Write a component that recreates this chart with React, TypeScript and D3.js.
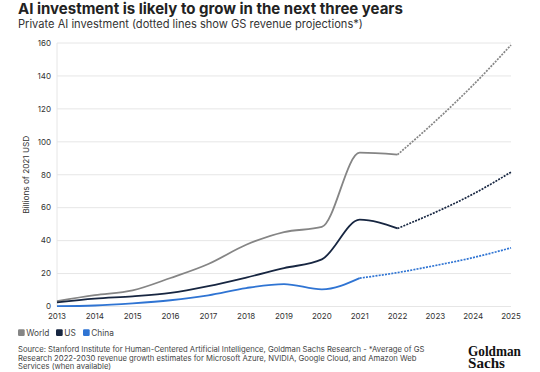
import React from 'react';
import * as d3 from 'd3';

const years = [2013, 2014, 2015, 2016, 2017, 2018, 2019, 2020, 2021, 2022, 2023, 2024, 2025];
const yTicks = [0, 20, 40, 60, 80, 100, 120, 140, 160];

// actuals (solid) and GS projections (dotted)
const worldActual = [3.3, 6.9, 9.8, 17.3, 25.8, 37.5, 45.2, 48.3, 93.4, 92.2];
const worldProjection = [92.2, 112.5, 134.5, 158.8];
const usActual = [2.5, 4.8, 6.2, 8.3, 12.4, 17.6, 23.3, 28.6, 52.7, 47.4];
const usProjection = [47.4, 57.2, 68.3, 81.6];
const chinaActual = [0.2, 0.6, 1.9, 3.8, 6.8, 11.2, 13.6, 10.4, 17.2];
const chinaProjection = [17.2, 20.6, 24.9, 29.7, 35.6];

const series = [
  { name: 'World', color: '#858585', actual: worldActual, proj: worldProjection, projStart: 2022 },
  { name: 'US', color: '#172641', actual: usActual, proj: usProjection, projStart: 2022 },
  { name: 'China', color: '#2f74d3', actual: chinaActual, proj: chinaProjection, projStart: 2021 },
];

const sourceLines = [
  'Source: Stanford Institute for Human-Centered Artificial Intelligence, Goldman Sachs Research - *Average of GS',
  'Research 2022-2030 revenue growth estimates for Microsoft Azure, NVIDIA, Google Cloud, and Amazon Web',
  'Services (when available)',
];

const W = 540;
const H = 372;
const font = 'Inter, "Noto Sans", sans-serif';

export default function App() {
  const x = d3.scaleLinear().domain([2013, 2025]).range([57, 511]);
  const y = d3.scaleLinear().domain([0, 160]).range([306.5, 43]);

  const line = d3
    .line<[number, number]>()
    .x((d) => x(d[0]))
    .y((d) => y(d[1]))
    .curve(d3.curveMonotoneX);

  return (
    <div style={{ position: 'absolute', left: 0, top: 0 }}>
      <svg width={W} height={H} style={{ display: 'block', background: '#fff' }}>
        <text x={18} y={13.5} fontFamily={font} fontWeight={700} fontSize={15} fill="#222">
          AI investment is likely to grow in the next three years
        </text>
        <text x={18} y={27.8} fontFamily={font} fontSize={11.1} fill="#333">
          Private AI investment (dotted lines show GS revenue projections*)
        </text>

        {yTicks.map((t) => (
          <g key={t}>
            <line x1={x(2013)} x2={x(2025)} y1={y(t)} y2={y(t)} stroke="#e6e6e6" strokeWidth={1} />
            <text
              x={51}
              y={y(t)}
              dy="0.35em"
              textAnchor="end"
              fontFamily={font}
              fontSize={8}
              fill="#333"
            >
              {t}
            </text>
          </g>
        ))}
        <line x1={x(2013)} x2={x(2013)} y1={y(160)} y2={y(0)} stroke="#e6e6e6" />

        {years.map((yr) => (
          <text
            key={yr}
            x={x(yr)}
            y={319}
            textAnchor="middle"
            fontFamily={font}
            fontSize={8}
            fill="#333"
          >
            {yr}
          </text>
        ))}

        <text
          transform={`translate(29,${(y(0) + y(160)) / 2}) rotate(-90)`}
          textAnchor="middle"
          fontFamily={font}
          fontSize={8.2}
          fill="#333"
        >
          Billions of 2021 USD
        </text>

        {series.map((s) => {
          const solid = s.actual.map((v, i) => [years[i], v] as [number, number]);
          const dotted = s.proj.map((v, i) => [s.projStart + i, v] as [number, number]);
          return (
            <g key={s.name}>
              <path d={line(solid) ?? ''} fill="none" stroke={s.color} strokeWidth={1.8} />
              <path
                d={line(dotted) ?? ''}
                fill="none"
                stroke={s.color}
                strokeWidth={1.7}
                strokeDasharray="2,1.2"
              />
            </g>
          );
        })}

        {series.map((s, i) => {
          const lx = [18, 56, 83][i];
          return (
            <g key={s.name}>
              <rect x={lx} y={329.3} width={6.7} height={6.7} rx={1.2} fill={s.color} />
              <text x={lx + 8.3} y={335.5} fontFamily={font} fontSize={8.3} fill="#444">
                {s.name}
              </text>
            </g>
          );
        })}

        {sourceLines.map((l, i) => (
          <text key={i} x={18} y={352 + i * 8.5} fontFamily={font} fontSize={7.7} fill="#444">
            {l}
          </text>
        ))}

        <text
          x={468}
          y={356}
          fontFamily='"Liberation Serif", serif'
          fontWeight={700}
          fontSize={12.5}
          fill="#111"
          textLength={53}
          lengthAdjust="spacingAndGlyphs"
          transform="translate(0,356) scale(1,1.12) translate(0,-356)"
        >
          Goldman
        </text>
        <text
          x={468}
          y={368}
          fontFamily='"Liberation Serif", serif'
          fontWeight={700}
          fontSize={12.5}
          fill="#111"
          textLength={37}
          lengthAdjust="spacingAndGlyphs"
          transform="translate(0,368) scale(1,1.12) translate(0,-368)"
        >
          Sachs
        </text>
      </svg>
    </div>
  );
}
